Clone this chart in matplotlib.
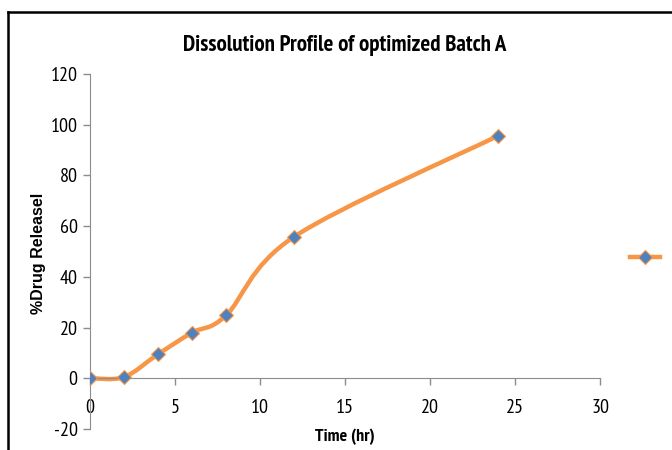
import numpy as np
import matplotlib.pyplot as plt
from matplotlib.path import Path
from matplotlib.patches import PathPatch
from matplotlib.lines import Line2D

time_hr = [0, 2, 4, 6, 8, 12, 24]
drug_released = [0, 0.5, 9.5, 18, 24.8, 55.8, 95.6]
x_ticks = [0, 5, 10, 15, 20, 25, 30]
y_ticks = [-20, 0, 20, 40, 60, 80, 100, 120]

orange = "#F79646"
blue = "#4F81BD"
narrow = ["PT Sans Narrow", "Carlito", "DejaVu Sans"]
plt.rcParams['axes.unicode_minus'] = False

fig = plt.figure(figsize=(6.72, 4.5), dpi=100)
ax = fig.add_axes([0.134, 0.0467, 0.759, 0.789])

# smooth curve like excel (catmull-rom as bezier segments)
pts = np.column_stack([time_hr, drug_released]).astype(float)
verts = [pts[0]]
codes = [Path.MOVETO]
n = len(pts)
for i in range(n - 1):
    p0 = pts[max(i - 1, 0)]
    p1 = pts[i]
    p2 = pts[i + 1]
    p3 = pts[min(i + 2, n - 1)]
    c1 = p1 + (p2 - p0) / 6.0
    c2 = p2 - (p3 - p1) / 6.0
    verts += [c1, c2, p2]
    codes += [Path.CURVE4] * 3
ax.add_patch(PathPatch(Path(verts, codes), facecolor="none", edgecolor=orange,
                       lw=3.2, capstyle="round", zorder=2))
ax.plot(time_hr, drug_released, ls="none", marker="D", ms=7, mfc=blue,
        mec=orange, mew=0.8, zorder=3)

ax.set_xlim(0, 30)
ax.set_ylim(-20, 120)
ax.set_xticks(x_ticks)
ax.set_yticks(y_ticks)

for s in ["top", "right"]:
    ax.spines[s].set_visible(False)
ax.spines["bottom"].set_position(("data", 0))
ax.spines["left"].set_color("#8c8c8c")
ax.spines["bottom"].set_color("#8c8c8c")
ax.tick_params(colors="#8c8c8c", length=5, width=1, labelcolor="black",
               labelsize=14.5)
ax.tick_params(axis="x", pad=10)
ax.tick_params(axis="y", pad=4)
for lab in ax.get_xticklabels() + ax.get_yticklabels():
    lab.set_family(narrow)

fig.text(0.513, 0.90, "Dissolution Profile of optimized Batch A", ha="center",
         va="center", fontsize=16.5, fontweight="bold", family=narrow)
fig.text(0.513, 0.028, "Time (hr)", ha="center", va="center", fontsize=13,
         fontweight="bold", family=narrow)
fig.text(0.057, 0.438, "%Drug Releasel", ha="center", va="center",
         rotation=90, fontsize=11.5, fontweight="bold",
         family=["Liberation Sans", "DejaVu Sans"])

handle = Line2D([], [], color=orange, lw=3.2, marker="D", ms=7, mfc=blue,
                mec=orange, mew=0.8)
fig.legend([handle], [""], loc="center", bbox_to_anchor=(0.96, 0.427),
           frameon=False, handlelength=2.2, handletextpad=0, borderpad=0)

# chart border (cropped at right and bottom)
fig.add_artist(Line2D([0.012, 0.012], [0, 0.973], color="black", lw=1.8))
fig.add_artist(Line2D([0.012, 1.0], [0.973, 0.973], color="black", lw=1.8))

fig.savefig("out.png", dpi=100)
